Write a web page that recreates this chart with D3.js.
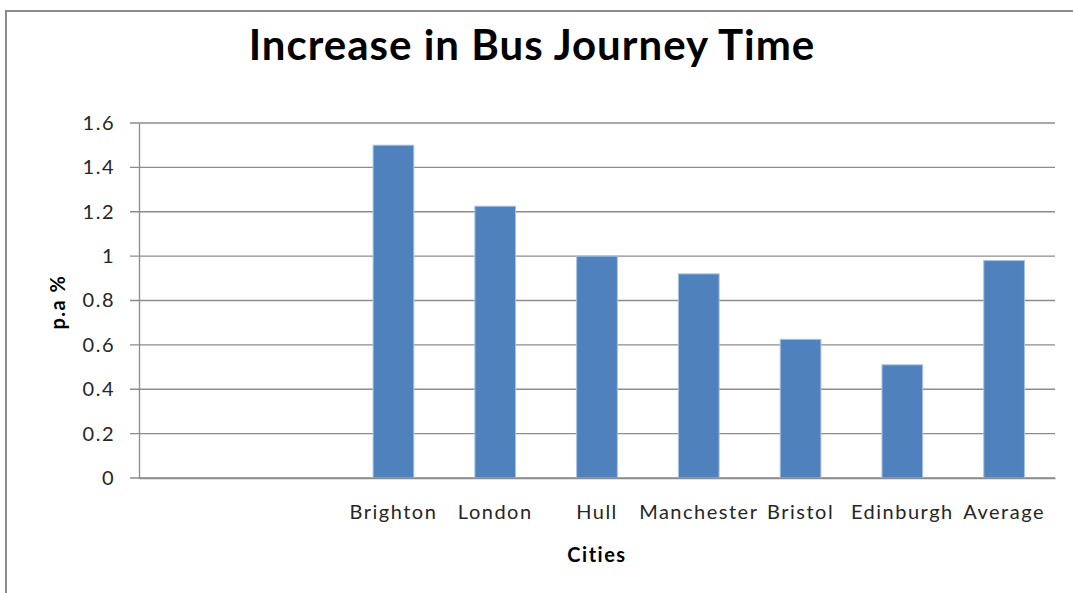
<!DOCTYPE html>
<html>
<head>
<meta charset="utf-8">
<script src="https://cdn.jsdelivr.net/npm/d3@7"></script>
<style>
  body { margin: 0; background: #fff; }
  svg { display: block; }
  text { font-family: Lato, "Open Sans", sans-serif; fill: #262626; }
</style>
</head>
<body>
<div id="chart"></div>
<script>
const categories = ["", " ", "Brighton", "London", "Hull", "Manchester", "Bristol", "Edinburgh", "Average"];
const values = [null, null, 1.5, 1.225, 1.0, 0.92, 0.625, 0.51, 0.98];
const yTicks = [0, 0.2, 0.4, 0.6, 0.8, 1, 1.2, 1.4, 1.6];

const W = 1073, H = 593;
const margin = { top: 123, right: 18, bottom: 115, left: 139 };
const width = W - margin.left - margin.right;
const height = H - margin.top - margin.bottom;

const svg = d3.select("#chart").append("svg")
    .attr("width", W)
    .attr("height", H);

// chart frame (runs off the right and bottom edges)
svg.append("rect")
    .attr("x", 6).attr("y", 11)
    .attr("width", 1100).attr("height", 700)
    .attr("fill", "none")
    .attr("stroke", "#8c8c8c")
    .attr("stroke-width", 2);

svg.append("text")
    .attr("x", 532).attr("y", 60)
    .attr("text-anchor", "middle")
    .style("font-size", "42px")
    .style("font-weight", "bold")
    .style("letter-spacing", "1px")
    .style("fill", "#000")
    .text("Increase in Bus Journey Time");

const g = svg.append("g")
    .attr("transform", "translate(" + margin.left + "," + margin.top + ")");

const x = d3.scaleBand().domain(categories).range([0, width])
    .paddingInner(0.6).paddingOuter(0.3);
const y = d3.scaleLinear().domain([0, 1.6]).range([height, 0]);

// gridlines
g.selectAll(".grid")
    .data(yTicks)
    .enter().append("line")
    .attr("x1", -9).attr("x2", width)
    .attr("y1", d => y(d)).attr("y2", d => y(d))
    .attr("stroke", "#8c8c8c")
    .attr("stroke-width", 1.3);

g.selectAll(".bar")
    .data(categories.map((c, i) => ({ c, v: values[i] })).filter(d => d.v != null))
    .enter().append("rect")
    .attr("x", d => x(d.c))
    .attr("y", d => y(d.v))
    .attr("width", x.bandwidth())
    .attr("height", d => y(0) - y(d.v))
    .attr("fill", "#4f81bd")
    .attr("stroke", "#a9c2e3")
    .attr("stroke-width", 1);

// y axis
const yAxis = g.append("g")
    .call(d3.axisLeft(y).tickValues(yTicks).tickFormat(d => d).tickSize(0).tickPadding(24));
yAxis.select(".domain").attr("stroke", "#8c8c8c").attr("stroke-width", 1.3);
yAxis.selectAll("text")
    .style("font-size", "20px")
    .style("letter-spacing", "1.5px")
    .style("fill", "#262626");

// x axis
const xAxis = g.append("g")
    .attr("transform", "translate(0," + height + ")")
    .call(d3.axisBottom(x).tickSize(0).tickPadding(27));
xAxis.select(".domain").attr("stroke", "#8c8c8c").attr("stroke-width", 1.3);
xAxis.selectAll("text")
    .style("font-size", "20px")
    .style("letter-spacing", "1.5px")
    .style("fill", "#262626");

svg.append("text")
    .attr("x", 597).attr("y", 562)
    .attr("text-anchor", "middle")
    .style("font-size", "20px")
    .style("font-weight", "bold")
    .style("letter-spacing", "1.5px")
    .style("fill", "#000")
    .text("Cities");

svg.append("text")
    .attr("transform", "translate(65,302) rotate(-90)")
    .attr("text-anchor", "middle")
    .style("font-size", "20px")
    .style("font-weight", "bold")
    .style("letter-spacing", "1.5px")
    .style("fill", "#000")
    .text("p.a %");
</script>
</body>
</html>
